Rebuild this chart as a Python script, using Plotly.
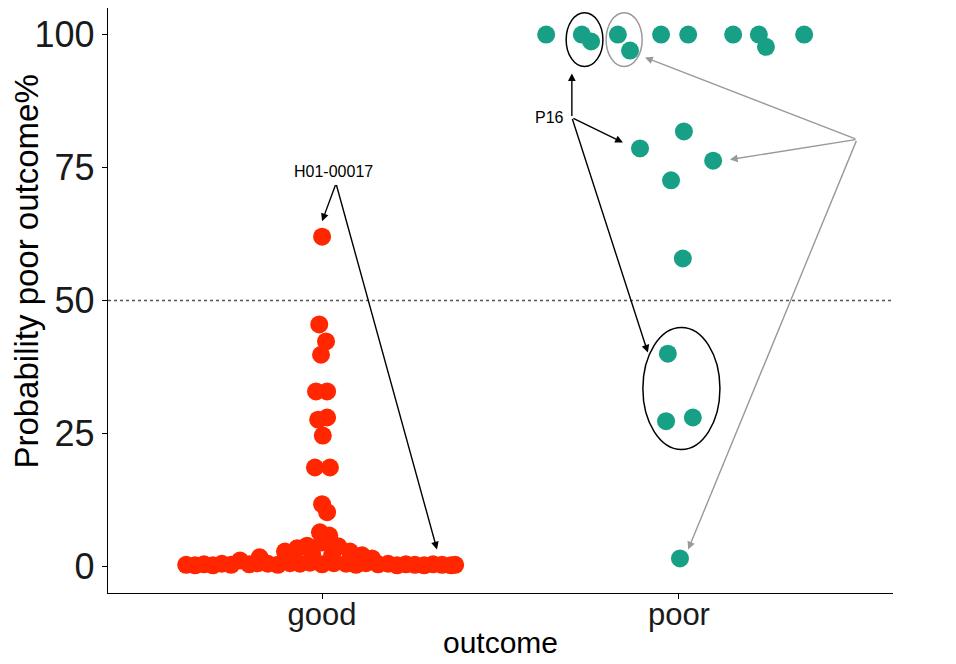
import plotly.graph_objects as go

# ---------------- data ----------------
categories = ["good", "poor"]

# good outcome group: predicted probability of poor outcome (%) and horizontal swarm offset (category units)
good_prob = [62.0, 45.5, 42.3, 39.8, 32.9, 32.9, 28.0, 27.6, 24.6, 18.6, 18.6, 11.7, 10.2,
             6.4, 5.8, 4.5, 3.9, 3.8, 3.4, 2.8, 2.8, 2.1, 1.7, 2.3, 2.1, 1.5, 1.1,
             0.3, 0.2, 0.4, 0.2, 0.5, 0.3, 0.4, 0.6, 0.5, 0.3, 0.6, 0.5, 0.7, 0.4,
             0.6, 0.5, 0.3, 0.6, 0.4, 0.5, 0.2, 0.4, 0.3, 0.2, 0.4, 0.3, 0.2, 0.3]
good_dx = [0.000, -0.008, 0.011, -0.003, -0.017, 0.014, 0.014, -0.011, 0.002, -0.020, 0.022, 0.000, 0.014,
           -0.006, 0.020, 0.000, -0.042, 0.045, -0.070, 0.078, -0.104, 0.112, -0.175, -0.028, 0.028, 0.140, -0.230,
           -0.381, -0.356, -0.331, -0.306, -0.281, -0.255, -0.204, -0.180, -0.152, -0.124, -0.090, -0.062, -0.034, 0.000,
           0.033, 0.067, 0.095, 0.123, 0.157, 0.185, 0.210, 0.235, 0.260, 0.286, 0.311, 0.336, 0.361, 0.373]

# poor outcome group
poor_prob = [100.0, 100.0, 98.7, 100.0, 97.0, 100.0, 100.0, 100.0, 100.0, 97.7, 100.0,
             78.6, 81.8, 76.3, 72.6, 57.9, 40.0, 27.3, 28.0, 1.5]
poor_dx = [-0.372, -0.272, -0.246, -0.171, -0.137, -0.050, 0.026, 0.152, 0.224, 0.244, 0.351,
           -0.109, 0.014, 0.096, -0.022, 0.011, -0.031, -0.036, 0.039, 0.003]

y_ticks = [0, 25, 50, 75, 100]
threshold = 50
y_title = "Probability poor outcome%"
x_title = "outcome"

RED = "#FF2600"
TEAL = "#17A085"
FONT = "Liberation Sans, Arial, Helvetica, sans-serif"

fig = go.Figure()
fig.add_trace(go.Scatter(
    x=[1 + d for d in good_dx], y=good_prob, mode="markers",
    marker=dict(size=18, color=RED, line=dict(width=0)), showlegend=False, hoverinfo="y"))
fig.add_trace(go.Scatter(
    x=[2 + d for d in poor_dx], y=poor_prob, mode="markers",
    marker=dict(size=18, color=TEAL, line=dict(width=0)), showlegend=False, hoverinfo="y"))

shapes = [
    dict(type="line", xref="paper", yref="y", x0=0, x1=1, y0=threshold, y1=threshold,
         line=dict(color="#555555", width=1.5, dash="dot")),
    dict(type="circle", xref="x", yref="y", x0=1.684, x1=1.787, y0=94.0, y1=104.1,
         line=dict(color="black", width=1.5)),
    dict(type="circle", xref="x", yref="y", x0=1.796, x1=1.897, y0=94.0, y1=104.1,
         line=dict(color="#999999", width=1.5)),
    dict(type="circle", xref="x", yref="y", x0=1.899, x1=2.115, y0=22.0, y1=44.9,
         line=dict(color="black", width=1.5)),
]

annotations = [
    # y-axis title
    dict(x=-0.104, y=0.55, xref="paper", yref="paper", text=y_title, textangle=-90,
         showarrow=False, xanchor="center", yanchor="middle",
         font=dict(family=FONT, size=33, color="black")),
]


def label(text, x, y):
    annotations.append(dict(x=x, y=y, xref="x", yref="y", text=text, showarrow=False,
                            font=dict(family=FONT, size=16, color="black")))


def arrow(x0, y0, x1, y1, color):
    annotations.append(dict(x=x1, y=y1, ax=x0, ay=y0, xref="x", yref="y", axref="x", ayref="y",
                            text="", showarrow=True, arrowhead=2, arrowsize=1.1, arrowwidth=1.4,
                            arrowcolor=color, standoff=0, startstandoff=0))


label("H01-00017", 1.033, 74.3)
arrow(1.039, 72.0, 1.0, 64.9, "black")
arrow(1.039, 72.0, 1.322, 3.2, "black")

label("P16", 1.636, 84.4)
arrow(1.700, 84.4, 1.700, 92.7, "black")
arrow(1.700, 84.4, 1.843, 79.7, "black")
arrow(1.700, 84.4, 1.913, 40.2, "black")

label("R01-00014", 2.650, 80.3)
arrow(2.499, 80.3, 1.905, 95.7, "#999999")
arrow(2.499, 80.3, 2.143, 76.5, "#999999")
arrow(2.499, 80.3, 2.026, 3.2, "#999999")

fig.update_layout(
    width=956, height=664,
    margin=dict(l=108, r=63, t=8, b=71, autoexpand=False),
    plot_bgcolor="white", paper_bgcolor="white",
    font=dict(family=FONT, color="black"),
    shapes=shapes, annotations=annotations,
    xaxis=dict(range=[0.4, 2.6], tickvals=[1, 2], ticktext=categories, automargin=False,
               showline=True, linecolor="black", linewidth=1.3, ticks="outside",
               ticklen=5, tickcolor="black", showgrid=False, zeroline=False,
               ticklabelstandoff=-11,
               tickfont=dict(size=31, color="#1a1a1a"),
               title=dict(text=x_title, font=dict(size=30, color="black"), standoff=0)),
    yaxis=dict(range=[-5, 105], tickvals=y_ticks, automargin=False,
               showline=True, linecolor="black", linewidth=1.3, ticks="outside",
               ticklen=5, tickcolor="black", showgrid=False, zeroline=False,
               ticklabelstandoff=0,
               tickfont=dict(size=36, color="#1a1a1a")),
)

fig.write_html("out.html", config={"displayModeBar": False},
               post_script="document.body.style.margin='0';document.body.style.padding='0';")
